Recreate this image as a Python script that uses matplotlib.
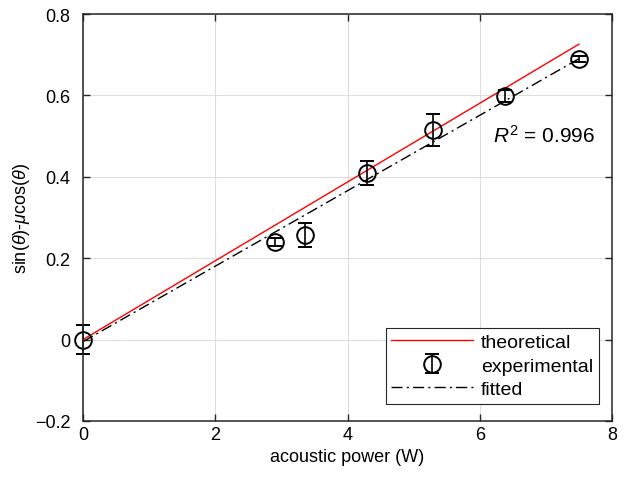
import numpy as np
import matplotlib.pyplot as plt

# measured points
power = [0, 2.9, 3.35, 4.3, 5.3, 6.38, 7.5]
force_ratio = [0, 0.24, 0.257, 0.409, 0.515, 0.598, 0.69]
err = [0.036, 0.01, 0.029, 0.03, 0.039, 0.015, 0.008]

# model lines
theory_slope = 0.0968
fit_slope = 0.0927
fit_icpt = -0.005
r2 = 0.996

xl = np.array([0, 7.5])

plt.rcParams['font.family'] = ['Liberation Sans', 'DejaVu Sans']
plt.rcParams['mathtext.fontset'] = 'custom'
plt.rcParams['mathtext.it'] = 'Liberation Sans:italic'
plt.rcParams['mathtext.rm'] = 'Liberation Sans'

fig = plt.figure(figsize=(6.29, 4.85), dpi=100)
ax = fig.add_axes([0.132, 0.130, 0.841, 0.839])

th, = ax.plot(xl, theory_slope * xl, color='red', lw=1.0, label='theoretical')
ex = ax.errorbar(power, force_ratio, yerr=err, fmt='o', mfc='none', mec='black',
                 ecolor='black', ms=12, mew=1.4, elinewidth=1.2, capsize=5,
                 capthick=1.2, label='experimental')
for art in ex.lines[0:1] + tuple(ex.lines[1]) + tuple(ex.lines[2]):
    art.set_clip_on(False)
ft, = ax.plot(xl, fit_slope * xl + fit_icpt, color='black', lw=1.0,
              linestyle=(0, (8, 3, 1.5, 3)), label='fitted')

ax.text(6.2, 0.485, '$R^2$ = %.3f' % r2, fontsize=15)

ax.set_xlim(0, 8)
ax.set_ylim(-0.2, 0.8)
ax.set_xticks([0, 2, 4, 6, 8])
ax.set_yticks([-0.2, 0, 0.2, 0.4, 0.6, 0.8])
ax.set_yticklabels(['\u22120.2', '0', '0.2', '0.4', '0.6', '0.8'])
ax.grid(True, color='#dedede', lw=0.8)
ax.set_axisbelow(True)
ax.tick_params(direction='in', top=True, right=True, labelsize=13, length=5,
               width=1.0, color='#262626')
ax.tick_params(axis='y', pad=9)
for s in ax.spines.values():
    s.set_color('#262626')
    s.set_linewidth(1.1)
ax.set_xlabel('acoustic power (W)', fontsize=13)
ax.set_ylabel(r'sin($\theta$)-$\mu$cos($\theta$)', fontsize=13, labelpad=2)

leg = ax.legend([th, ex, ft], ['theoretical', 'experimental', 'fitted'],
                loc='lower right', bbox_to_anchor=(0.975, 0.042), fontsize=14,
                fancybox=False, edgecolor='#262626', framealpha=1,
                handlelength=4.2, borderpad=0.3, labelspacing=0.3,
                handletextpad=0.4, borderaxespad=0)
leg.get_frame().set_linewidth(0.8)

fig.savefig('out.png', dpi=100)
